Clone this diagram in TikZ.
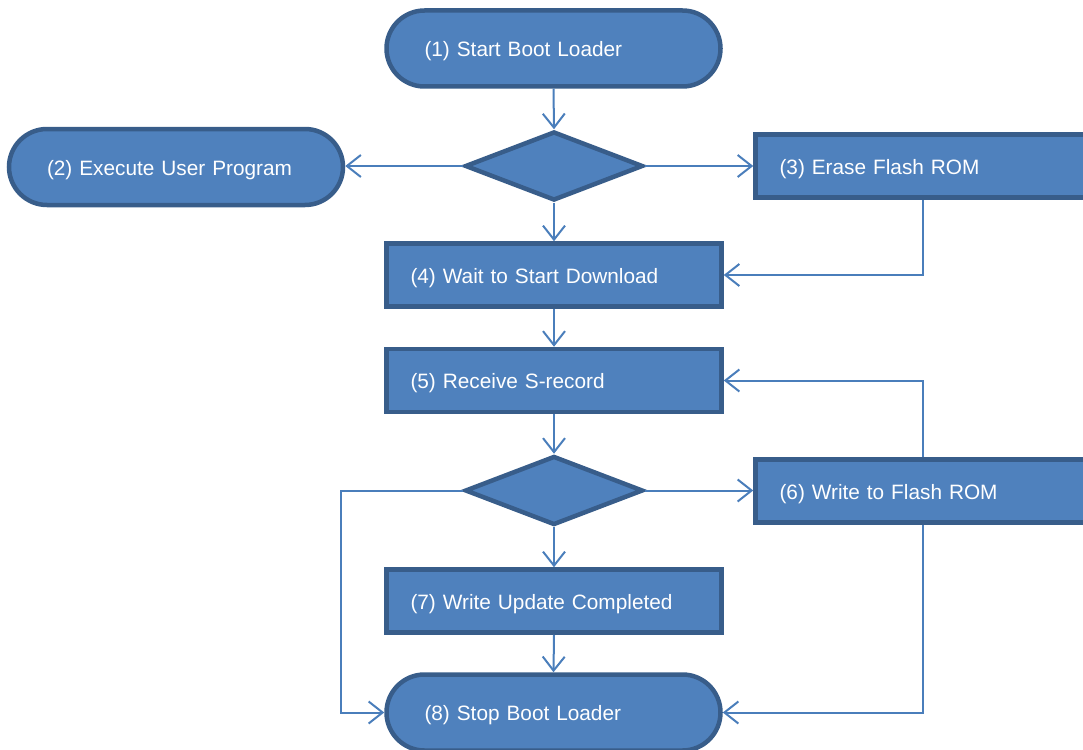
\documentclass[tikz,border=0pt]{standalone}
\usepackage{fontspec}
\setmainfont{Liberation Sans}
\usetikzlibrary{shapes.geometric, arrows.meta}
\definecolor{fillblue}{HTML}{4F81BD}
\definecolor{edgeblue}{HTML}{385D8A}
\definecolor{lineblue}{HTML}{4A7EBB}
\begin{document}
\begin{tikzpicture}[x=1pt,y=-1pt,
  box/.style={draw=edgeblue, fill=fillblue, line width=4.5pt, text=white,
    font=\fontsize{20.8}{25}\selectfont, align=left, inner ysep=0pt,
    text height=17pt, text depth=1pt,
    minimum height=63pt, text width=287pt, inner xsep=24pt},
  term/.style={box, rounded corners=38pt, minimum height=76pt, text width=258pt, inner xsep=38pt},
  dec/.style={diamond, draw=edgeblue, fill=fillblue, line width=4.5pt,
    minimum width=178pt, minimum height=69pt, inner sep=0pt},
  flow/.style={draw=lineblue, line width=2pt, -{Straight Barb[length=14pt,width=22pt]}}
]
\useasboundingbox (0,0) rectangle (1083,749);
\clip (0,0) rectangle (1083,749);

\node[term] (s1) at (553.5,48.5) {(1) Start Boot Loader};
\node[dec]  (d1) at (554,166) {};
\node[term] (n2) at (176,167) {(2) Execute User Program};
\node[box]  (n3) at (923,166) {(3) Erase Flash ROM};
\node[box]  (n4) at (554,275) {(4) Wait to Start Download};
\node[box]  (n5) at (554,380.5) {(5) Receive S-record};
\node[dec]  (d2) at (554,490.5) {};
\node[box]  (n6) at (923,491) {(6) Write to Flash ROM};
\node[box]  (n7) at (554,601) {(7) Write Update Completed};
\node[term] (n8) at (553.5,712.5) {(8) Stop Boot Loader};
\coordinate (lp) at (341,712.5);

\draw[flow] (s1.south) -- (d1.north);
\draw[flow] (d1.west) -- (d1.west -| n2.east);
\draw[flow] (d1.east) -- (n3.west);
\draw[flow] (d1.south) -- (n4.north);
\draw[flow] (n3.south) |- (n4.east);
\draw[flow] (n4.south) -- (n5.north);
\draw[flow] (n6.north) |- (n5.east);
\draw[flow] (n5.south) -- (d2.north);
\draw[flow] (d2.east) -- (d2.east -| n6.west);
\draw[flow] (d2.west) -| (lp) -- (n8.west);
\draw[flow] (d2.south) -- (n7.north);
\draw[flow] (n7.south) -- (n8.north);
\draw[flow] (n6.south) |- (n8.east);
\end{tikzpicture}
\end{document}
